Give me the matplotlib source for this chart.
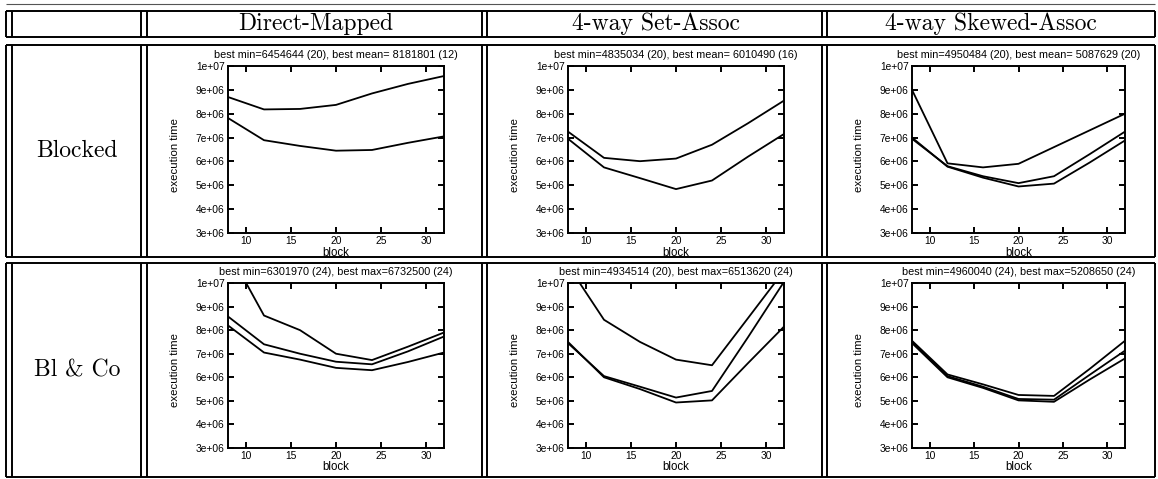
import matplotlib
matplotlib.use("Agg")
import matplotlib.pyplot as plt
from matplotlib.lines import Line2D
from matplotlib.ticker import FuncFormatter

W, H = 1158, 479
DPI = 100

# ---------------- data ----------------
blocks = [8, 12, 16, 20, 24, 28, 32]

col_titles = ["Direct-Mapped", "4-way Set-Assoc", "4-way Skewed-Assoc"]
row_titles = ["Blocked", "Bl & Co"]

dm_blocked_mean = [8.70e6, 8.18e6, 8.20e6, 8.37e6, 8.85e6, 9.25e6, 9.58e6]
dm_blocked_min = [7.82e6, 6.89e6, 6.65e6, 6.45e6, 6.48e6, 6.78e6, 7.05e6]

sa_blocked_mean = [7.25e6, 6.15e6, 6.01e6, 6.12e6, 6.70e6, 7.60e6, 8.55e6]
sa_blocked_min = [6.95e6, 5.75e6, 5.30e6, 4.84e6, 5.20e6, 6.20e6, 7.15e6]

sk_blocked_max = [9.00e6, 5.92e6, 5.75e6, 5.90e6, 6.60e6, 7.30e6, 8.00e6]
sk_blocked_mean = [6.95e6, 5.80e6, 5.38e6, 5.09e6, 5.38e6, 6.30e6, 7.25e6]
sk_blocked_min = [7.00e6, 5.78e6, 5.32e6, 4.95e6, 5.07e6, 5.95e6, 6.88e6]

dm_blco_max = [11.4e6, 8.62e6, 8.00e6, 7.00e6, 6.73e6, 7.30e6, 7.90e6]
dm_blco_mid = [8.58e6, 7.40e6, 7.00e6, 6.66e6, 6.55e6, 7.10e6, 7.73e6]
dm_blco_min = [8.20e6, 7.05e6, 6.75e6, 6.40e6, 6.30e6, 6.65e6, 7.05e6]

sa_blco_max = [10.75e6, 8.44e6, 7.50e6, 6.75e6, 6.51e6, 8.51e6, 10.52e6]
sa_blco_mid = [7.45e6, 6.05e6, 5.60e6, 5.14e6, 5.42e6, 7.70e6, 10.05e6]
sa_blco_min = [7.50e6, 6.00e6, 5.50e6, 4.93e6, 5.02e6, 6.60e6, 8.15e6]

sk_blco_max = [7.55e6, 6.12e6, 5.70e6, 5.25e6, 5.21e6, 6.35e6, 7.55e6]
sk_blco_mid = [7.50e6, 6.05e6, 5.60e6, 5.08e6, 5.05e6, 6.10e6, 7.13e6]
sk_blco_min = [7.45e6, 6.00e6, 5.55e6, 5.02e6, 4.96e6, 5.90e6, 6.80e6]

panel_titles = [
    ["best min=6454644 (20), best mean= 8181801 (12)",
     "best min=4835034 (20), best mean= 6010490 (16)",
     "best min=4950484 (20), best mean= 5087629 (20)"],
    ["best min=6301970 (24), best max=6732500 (24)",
     "best min=4934514 (20), best max=6513620 (24)",
     "best min=4960040 (24), best max=5208650 (24)"],
]

panel_series = [
    [[dm_blocked_mean, dm_blocked_min],
     [sa_blocked_mean, sa_blocked_min],
     [sk_blocked_max, sk_blocked_mean, sk_blocked_min]],
    [[dm_blco_max, dm_blco_mid, dm_blco_min],
     [sa_blco_max, sa_blco_mid, sa_blco_min],
     [sk_blco_max, sk_blco_mid, sk_blco_min]],
]

y_ticks = [3e6, 4e6, 5e6, 6e6, 7e6, 8e6, 9e6, 1e7]
x_ticks = [10, 15, 20, 25, 30]

# ---------------- layout (pixels) ----------------
fig = plt.figure(figsize=(W / DPI, H / DPI), dpi=DPI)
fig.patch.set_facecolor("white")


def fx(x):
    return x / W


def fy(y):
    return 1 - y / H


def hline(x0, x1, y, lw=1.4, color="black"):
    fig.add_artist(Line2D([fx(x0), fx(x1)], [fy(y), fy(y)], lw=lw, color=color,
                          transform=fig.transFigure, solid_capstyle="butt"))


def vline(x, y0, y1, lw=1.4, color="black"):
    fig.add_artist(Line2D([fx(x), fx(x)], [fy(y0), fy(y1)], lw=lw, color=color,
                          transform=fig.transFigure, solid_capstyle="butt"))


# table grid
row_edges = [(11, 37), (45, 257), (263, 477)]
left_x, right_x = 6, 1155

hline(6, 1155, 4, lw=0.8, color="#555555")
for (y0, y1) in row_edges:
    hline(left_x, right_x, y0)
    hline(left_x, right_x, y1)
    for x in [6, 12, 141, 147, 482, 487, 822, 827, 1155]:
        vline(x, y0, y1)

serif = ["cmr10", "DejaVu Serif"]
sans = ["Liberation Sans", "DejaVu Sans"]

col_centers = [(147 + 484) / 2, (487 + 824) / 2, (827 + 1155) / 2]
for c, t in enumerate(col_titles):
    fig.text(fx(col_centers[c]), fy(24), t, ha="center", va="center",
             fontsize=17, family=serif)

for r, t in enumerate(row_titles):
    yc = (row_edges[r + 1][0] + row_edges[r + 1][1]) / 2
    fig.text(fx(77), fy(yc), t, ha="center", va="center", fontsize=17, family=serif)

axes_x = [(228, 444), (568, 784), (912, 1125)]
axes_y = [(66, 233), (283, 448)]

fmt = FuncFormatter(lambda v, p: f"{v:.0e}")

for r in range(2):
    for c in range(3):
        x0, x1 = axes_x[c]
        y0, y1 = axes_y[r]
        ax = fig.add_axes([fx(x0), fy(y1), (x1 - x0) / W, (y1 - y0) / H])
        for s in panel_series[r][c]:
            ax.plot(blocks, s, color="black", lw=1.3)
        ax.set_xlim(8, 32)
        ax.set_ylim(3e6, 1e7)
        ax.set_yticks(y_ticks)
        ax.set_xticks(x_ticks)
        ax.yaxis.set_major_formatter(fmt)
        ax.tick_params(direction="in", length=4, width=1.4, top=True, right=True,
                       labelsize=7.4, pad=2.5)
        for lab in ax.get_xticklabels() + ax.get_yticklabels():
            lab.set_family(sans)
        for sp in ax.spines.values():
            sp.set_linewidth(1.4)
        ax.text(0.5, 1.0 + 11 / (y1 - y0), panel_titles[r][c], transform=ax.transAxes,
                ha="center", va="center", fontsize=7.8, family=sans)
        ax.text(0.5, -19.5 / (y1 - y0), "block", transform=ax.transAxes,
                ha="center", va="center", fontsize=8.3, family=sans)
        ax.text(-53 / (x1 - x0), 0.47, "execution time", transform=ax.transAxes,
                ha="center", va="center", rotation=90, fontsize=8.2, family=sans)

fig.savefig("out.png", dpi=DPI, facecolor="white")
